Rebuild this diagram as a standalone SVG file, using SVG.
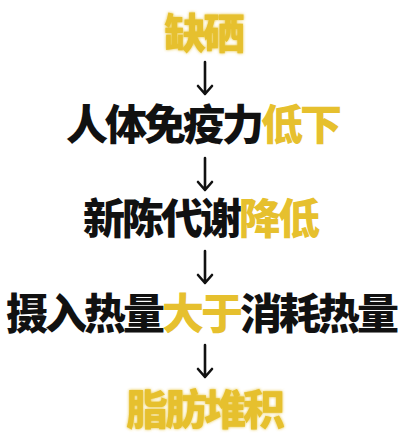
<svg xmlns="http://www.w3.org/2000/svg" width="415" height="443" viewBox="0 0 415 443">
<style>
.t{font-family:"Noto Sans CJK SC","Noto Sans CJK JP",sans-serif;font-weight:900;font-size:42px;letter-spacing:-3px;fill:#111}
.y{fill:#e6c02e}
.a{fill:none;stroke:#111;stroke-width:2.6;stroke-linecap:round;stroke-linejoin:round}
</style>
<defs>
<filter id="glow" filterUnits="userSpaceOnUse" x="0" y="0" width="415" height="443">
<feGaussianBlur in="SourceGraphic" stdDeviation="1.5" result="b"/>
<feMerge><feMergeNode in="b"/><feMergeNode in="SourceGraphic"/></feMerge>
</filter>
</defs>
<rect width="415" height="443" fill="#fff"/>
<g id="n1"><text class="t y" x="164" y="49" filter="url(#glow)">缺硒</text></g>
<g id="n2"><text class="t" x="66" y="140">人体免疫力<tspan class="y">低下</tspan></text></g>
<g id="n3"><text class="t" x="83" y="234">新陈代谢<tspan class="y">降低</tspan></text></g>
<g id="n4"><text class="t" x="6" y="329">摄入热量<tspan class="y">大于</tspan>消耗热量</text></g>
<g id="n5"><text class="t y" x="126" y="425" filter="url(#glow)">脂肪堆积</text></g>
<g id="connectors">
<path class="a" d="M205 62V94M198 86L205 94L212 86"/>
<path class="a" d="M205 158V190M198 182L205 190L212 182"/>
<path class="a" d="M205 251V283M198 275L205 283L212 275"/>
<path class="a" d="M205 345V377M198 369L205 377L212 369"/>
</g>
</svg>
